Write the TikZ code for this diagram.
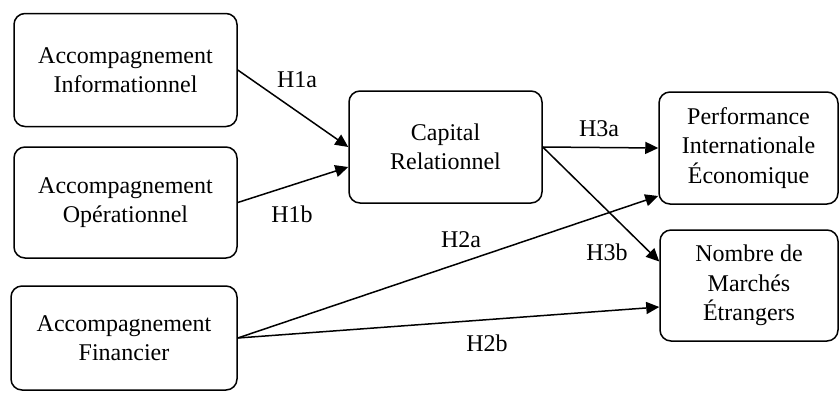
\documentclass[tikz,border=0pt]{standalone}
\usepackage{fontspec}
\setmainfont{Liberation Serif}
\usetikzlibrary{arrows.meta,calc}
\begin{document}
\begin{tikzpicture}[x=1pt,y=-1pt,
  box/.style={draw,line width=1.5pt,rounded corners=11pt,align=center,
    inner sep=0pt,font=\fontsize{24}{29.5}\selectfont},
  arr/.style={line width=1.5pt,-{Triangle[length=13pt,width=12pt]}},
  lab/.style={font=\fontsize{24}{29.5}\selectfont,inner sep=0pt}]
\useasboundingbox (0,0) rectangle (840,392);
\node[box,minimum width=223pt,minimum height=113pt] (info) at (125.5,70) {Accompagnement\\Informationnel};
\node[box,minimum width=223pt,minimum height=111pt] (oper) at (125.5,202.5) {Accompagnement\\Opérationnel};
\node[box,minimum width=226pt,minimum height=104pt] (fin) at (124,338) {Accompagnement\\Financier};
\node[box,minimum width=193pt,minimum height=112pt] (cap) at (445.5,147) {Capital\\Relationnel};
\node[box,minimum width=179pt,minimum height=112pt] (perf) at (748.5,148) {Performance\\Internationale\\Économique};
\node[box,minimum width=178pt,minimum height=111pt] (nomb) at (749,285.5) {Nombre de\\Marchés\\Étrangers};
\draw[arr] (info.east) -- (cap.west);
\draw[arr] (oper.east) -- ($(cap.west)+(0,20)$);
\draw[arr] (cap.east) -- (perf.west);
\draw[arr] (cap.east) -- ($(nomb.west)+(0,-24)$);
\draw[arr] (fin.east) -- ($(perf.west)+(0,48)$);
\draw[arr] (fin.east) -- ($(nomb.west)+(0,21.5)$);
\node[lab] (l1a) at (297,80) {H1a};
\node[lab] (l1b) at (292,214) {H1b};
\node[lab] (l2a) at (461,240) {H2a};
\node[lab] (l2b) at (487,343) {H2b};
\node[lab] (l3a) at (599,129) {H3a};
\node[lab] (l3b) at (607,252) {H3b};
\end{tikzpicture}
\end{document}
